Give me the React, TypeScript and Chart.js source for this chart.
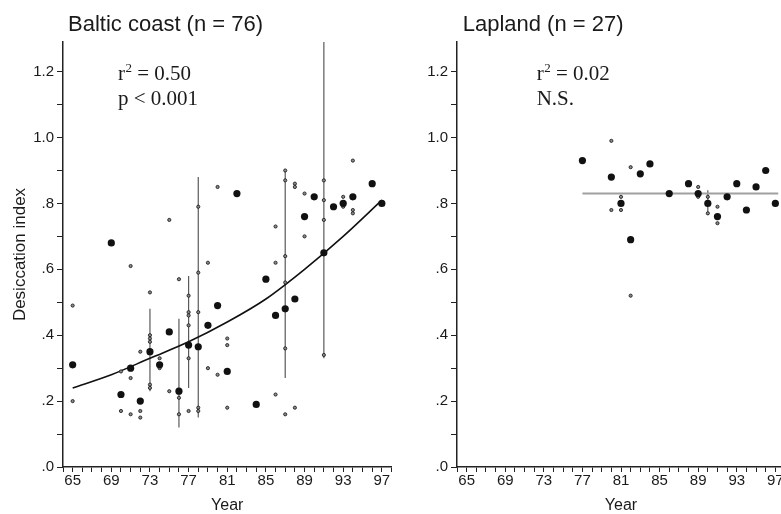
import React, { useEffect, useRef } from 'react';
import { Chart, registerables } from 'chart.js';

Chart.register(...registerables);

// ---------------- Data ----------------
const balticTitle = 'Baltic coast (n = 76)';
const laplandTitle = 'Lapland (n = 27)';
const balticR2 = '0.50';
const balticSig = 'p < 0.001';
const laplandR2 = '0.02';
const laplandSig = 'N.S.';
const xAxisTitle = 'Year';
const yAxisTitle = 'Desiccation index';

const xTickYears = [64, 65, 66, 67, 68, 69, 70, 71, 72, 73, 74, 75, 76, 77, 78, 79, 80, 81, 82, 83, 84, 85, 86, 87, 88, 89, 90, 91, 92, 93, 94, 95, 96, 97, 98];
const xLabelYears = [65, 69, 73, 77, 81, 85, 89, 93, 97];
const yTickValues = [0, 0.1, 0.2, 0.3, 0.4, 0.5, 0.6, 0.7, 0.8, 0.9, 1.0, 1.1, 1.2];

// Baltic coast: yearly means (large dots)
const balticMeanYears = [65, 69, 70, 71, 72, 73, 74, 75, 76, 77, 78, 79, 80, 81, 82, 84, 85, 86, 87, 88, 89, 90, 91, 92, 93, 94, 96, 97];
const balticMeanValues = [0.31, 0.68, 0.22, 0.30, 0.20, 0.35, 0.31, 0.41, 0.23, 0.37, 0.365, 0.43, 0.49, 0.29, 0.83, 0.19, 0.57, 0.46, 0.48, 0.51, 0.76, 0.82, 0.65, 0.79, 0.80, 0.82, 0.86, 0.80];

// Baltic coast: individual samples (small dots)
const balticSampleYears = [65, 65, 70, 70, 71, 71, 71, 72, 72, 72, 73, 73, 73, 73, 73, 73, 74, 74, 75, 75, 76, 76, 76, 77, 77, 77, 77, 77, 77, 78, 78, 78, 78, 78, 79, 79, 80, 80, 81, 81, 81, 86, 86, 86, 87, 87, 87, 87, 87, 87, 88, 88, 88, 89, 89, 91, 91, 91, 91, 93, 93, 94, 94, 94];
const balticSampleValues = [0.49, 0.20, 0.29, 0.17, 0.61, 0.27, 0.16, 0.35, 0.17, 0.15, 0.53, 0.40, 0.39, 0.38, 0.25, 0.24, 0.33, 0.30, 0.75, 0.23, 0.57, 0.21, 0.16, 0.52, 0.47, 0.46, 0.43, 0.33, 0.17, 0.79, 0.59, 0.47, 0.18, 0.17, 0.62, 0.30, 0.85, 0.28, 0.39, 0.37, 0.18, 0.73, 0.62, 0.22, 0.90, 0.87, 0.64, 0.56, 0.36, 0.16, 0.86, 0.85, 0.18, 0.83, 0.70, 0.87, 0.81, 0.75, 0.34, 0.82, 0.79, 0.93, 0.78, 0.77];

// Baltic coast: ranges (vertical lines)
const balticRangeYears = [73, 76, 77, 78, 87, 91];
const balticRangeLow = [0.23, 0.12, 0.24, 0.15, 0.27, 0.33];
const balticRangeHigh = [0.48, 0.45, 0.58, 0.88, 0.90, 1.30];

// Baltic coast: fitted curve
const balticFitYears = [65, 69, 73, 77, 81, 85, 89, 93, 97];
const balticFitValues = [0.24, 0.28, 0.33, 0.38, 0.44, 0.51, 0.60, 0.70, 0.81];

// Lapland
const laplandMeanYears = [77, 80, 81, 82, 83, 84, 86, 88, 89, 90, 91, 92, 93, 94, 95, 96, 97];
const laplandMeanValues = [0.93, 0.88, 0.80, 0.69, 0.89, 0.92, 0.83, 0.86, 0.83, 0.80, 0.76, 0.82, 0.86, 0.78, 0.85, 0.90, 0.80];
const laplandSampleYears = [80, 80, 81, 81, 82, 82, 89, 89, 90, 90, 91, 91];
const laplandSampleValues = [0.99, 0.78, 0.82, 0.78, 0.91, 0.52, 0.85, 0.82, 0.82, 0.77, 0.79, 0.74];
const laplandRangeYears = [90];
const laplandRangeLow = [0.765];
const laplandRangeHigh = [0.84];
const laplandFitYears = [77, 97.3];
const laplandFitValues = [0.83, 0.83];

// ---------------- Styling ----------------
const SANS = '"Liberation Sans", Arial, Helvetica, sans-serif';
const SERIF = '"Liberation Serif", "Times New Roman", Times, serif';
const INK = '#1a1a1a';
const AXIS = '#222';

type Panel = {
  title: string;
  r2: string;
  sig: string;
  titleX: number;
  statX: number;
  meanX: number[];
  meanY: number[];
  sampleX: number[];
  sampleY: number[];
  rangeX: number[];
  rangeLo: number[];
  rangeHi: number[];
  fitX: number[];
  fitY: number[];
  fitColor: string;
  fitWidth: number;
  yAxisWidth: number;
  padRight: number;
  showYTitle: boolean;
};

const panelTextPlugin = {
  id: 'panelText',
  afterDraw(chart: any, _args: any, opts: any) {
    const ctx = chart.ctx as CanvasRenderingContext2D;
    ctx.save();
    ctx.fillStyle = INK;
    ctx.textAlign = 'left';
    ctx.textBaseline = 'alphabetic';
    ctx.font = `22px ${SANS}`;
    ctx.fillText(opts.title, opts.titleX, 31);
    ctx.font = `21px ${SERIF}`;
    let x = opts.statX;
    ctx.fillText('r', x, 80);
    x += ctx.measureText('r').width;
    ctx.font = `13px ${SERIF}`;
    ctx.fillText('2', x + 0.5, 72);
    x += ctx.measureText('2').width + 0.5;
    ctx.font = `21px ${SERIF}`;
    ctx.fillText(' = ' + opts.r2, x, 80);
    ctx.fillText(opts.sig, opts.statX, 105);
    ctx.restore();
  },
};

function buildConfig(p: Panel): any {
  const means = p.meanX.map((x, i) => ({ x, y: p.meanY[i] }));
  const samples = p.sampleX.map((x, i) => ({ x, y: p.sampleY[i] }));
  const fit = p.fitX.map((x, i) => ({ x, y: p.fitY[i] }));
  const ranges = p.rangeX.map((x, i) => ({
    type: 'line',
    data: [
      { x, y: p.rangeLo[i] },
      { x, y: p.rangeHi[i] },
    ],
    borderColor: '#5a5a5a',
    borderWidth: 1.2,
    pointRadius: 0,
    fill: false,
  }));

  return {
    type: 'scatter',
    data: {
      datasets: [
        {
          type: 'scatter',
          data: means,
          pointRadius: 3.6,
          backgroundColor: '#111',
          borderColor: '#111',
          borderWidth: 0,
        },
        {
          type: 'scatter',
          data: samples,
          pointRadius: 1.6,
          backgroundColor: '#8a8a8a',
          borderColor: '#111',
          borderWidth: 0.8,
        },
        {
          type: 'line',
          data: fit,
          borderColor: p.fitColor,
          borderWidth: p.fitWidth,
          pointRadius: 0,
          fill: false,
          cubicInterpolationMode: 'monotone',
        },
        ...ranges,
      ],
    },
    options: {
      animation: false,
      responsive: false,
      devicePixelRatio: 1,
      events: [],
      layout: { padding: { top: 42, right: p.padRight, bottom: 0, left: 0 } },
      plugins: {
        legend: { display: false },
        tooltip: { enabled: false },
        panelText: { title: p.title, r2: p.r2, sig: p.sig, titleX: p.titleX, statX: p.statX },
      },
      scales: {
        x: {
          type: 'linear',
          min: 64,
          max: 98,
          afterBuildTicks: (s: any) => {
            s.ticks = xTickYears.map((v) => ({ value: v }));
          },
          afterFit: (s: any) => {
            s.height = 47;
          },
          ticks: {
            autoSkip: false,
            maxRotation: 0,
            minRotation: 0,
            padding: 0,
            color: INK,
            font: { family: SANS, size: 15 },
            callback: (v: any) => (xLabelYears.includes(Number(v)) ? String(v) : ''),
          },
          grid: { display: true, drawOnChartArea: false, drawTicks: true, tickLength: 5, color: AXIS, lineWidth: 1 },
          border: { display: true, color: AXIS, width: 1.5 },
          title: {
            display: true,
            text: xAxisTitle,
            color: INK,
            font: { family: SANS, size: 16, lineHeight: 1 },
            padding: { top: 0, bottom: 0 },
          },
        },
        y: {
          type: 'linear',
          min: 0,
          max: 1.29,
          afterBuildTicks: (s: any) => {
            s.ticks = yTickValues.map((v) => ({ value: v }));
          },
          afterFit: (s: any) => {
            s.width = p.yAxisWidth;
          },
          ticks: {
            autoSkip: false,
            padding: 3,
            color: INK,
            font: { family: SANS, size: 15 },
            callback: (v: any) => {
              const n = Math.round(Number(v) * 10);
              if (n % 2 !== 0) return '';
              return n >= 10 ? (n / 10).toFixed(1) : '.' + n;
            },
          },
          grid: { display: true, drawOnChartArea: false, drawTicks: true, tickLength: 6, color: AXIS, lineWidth: 1 },
          border: { display: true, color: AXIS, width: 1.5 },
          title: {
            display: p.showYTitle,
            text: yAxisTitle,
            color: INK,
            font: { family: SANS, size: 17 },
            padding: { top: 10, bottom: 0 },
          },
        },
      },
    },
    plugins: [panelTextPlugin],
  };
}

const balticPanel: Panel = {
  title: balticTitle,
  r2: balticR2,
  sig: balticSig,
  titleX: 68,
  statX: 118,
  meanX: balticMeanYears,
  meanY: balticMeanValues,
  sampleX: balticSampleYears,
  sampleY: balticSampleValues,
  rangeX: balticRangeYears,
  rangeLo: balticRangeLow,
  rangeHi: balticRangeHigh,
  fitX: balticFitYears,
  fitY: balticFitValues,
  fitColor: '#111',
  fitWidth: 1.6,
  yAxisWidth: 63,
  padRight: 8.5,
  showYTitle: true,
};

const laplandPanel: Panel = {
  title: laplandTitle,
  r2: laplandR2,
  sig: laplandSig,
  titleX: 62.7,
  statX: 136.7,
  meanX: laplandMeanYears,
  meanY: laplandMeanValues,
  sampleX: laplandSampleYears,
  sampleY: laplandSampleValues,
  rangeX: laplandRangeYears,
  rangeLo: laplandRangeLow,
  rangeHi: laplandRangeHigh,
  fitX: laplandFitYears,
  fitY: laplandFitValues,
  fitColor: '#a0a0a0',
  fitWidth: 2,
  yAxisWidth: 57,
  padRight: 35,
  showYTitle: false,
};

function PanelChart({ spec, left, width }: { spec: Panel; left: number; width: number }) {
  const ref = useRef<HTMLCanvasElement>(null);
  useEffect(() => {
    const chart = new Chart(ref.current as HTMLCanvasElement, buildConfig(spec));
    return () => chart.destroy();
  }, [spec]);
  return (
    <canvas
      ref={ref}
      width={width}
      height={514}
      style={{ position: 'absolute', left, top: 0, width, height: 514, display: 'block' }}
    />
  );
}

export default function App() {
  return (
    <div
      style={{
        position: 'fixed',
        left: 0,
        top: 0,
        width: 781,
        height: 514,
        overflow: 'hidden',
        background: '#fff',
      }}
    >
      <PanelChart spec={balticPanel} left={0} width={400} />
      <PanelChart spec={laplandPanel} left={400} width={420} />
    </div>
  );
}
